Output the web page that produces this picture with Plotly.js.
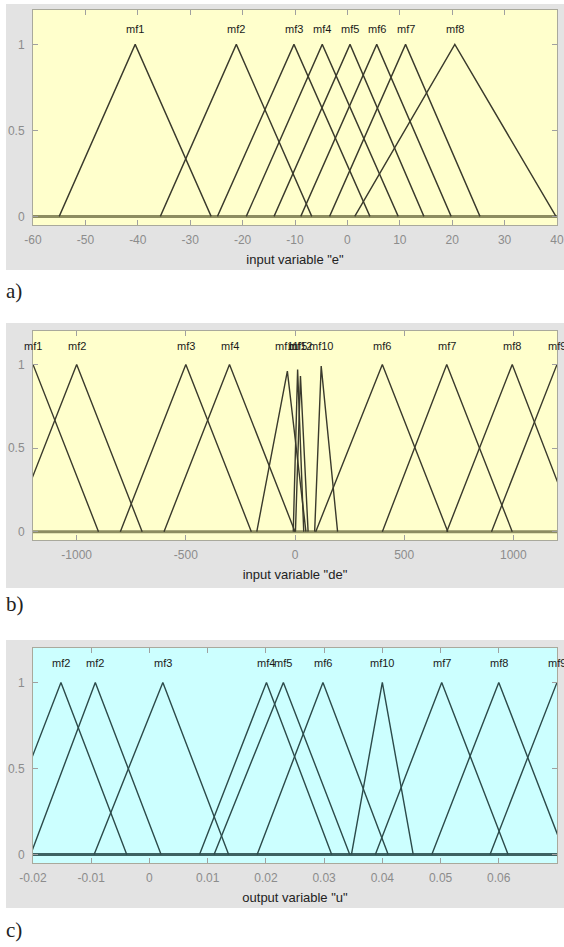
<!DOCTYPE html>
<html><head><meta charset="utf-8">
<script src="https://cdn.plot.ly/plotly-3.0.1.min.js"></script>
<style>
body{margin:0;background:#fff;width:564px;height:947px;position:relative;overflow:hidden;}
.p{position:absolute;left:6px;width:558px;}
.lab{position:absolute;left:6px;font-family:"Liberation Serif","DejaVu Serif",serif;font-size:21px;color:#222;line-height:24px;}
</style></head><body>
<div id="pa" class="p" style="top:4px;height:266px"></div>
<div class="lab" style="top:279px">a)</div>
<div id="pb" class="p" style="top:323px;height:265px"></div>
<div class="lab" style="top:592px">b)</div>
<div id="pc" class="p" style="top:640px;height:268px"></div>
<div class="lab" style="top:918px">c)</div>
<script>
// ---- panel a: input variable "e" ----
const eNames  = ['mf1','mf2','mf3','mf4','mf5','mf6','mf7','mf8'];
const eLeft   = [-55, -35.7, -24.8, -19.3, -14, -8.9, -3.4, 1.4];
const ePeak   = [-40.5, -21.2, -10.2, -4.8, 0.5, 5.6, 11.1, 20.5];
const eRight  = [-26, -6.8, 4.3, 9.7, 14.6, 19.8, 25.3, 39.8];
const eHeight = [1, 1, 1, 1, 1, 1, 1, 1];
const eRange  = [-60, 40];
const eTicks  = [-60, -50, -40, -30, -20, -10, 0, 10, 20, 30, 40];
const eTickText = ['-60','-50','-40','-30','-20','-10','0','10','20','30','40'];

// ---- panel b: input variable "de" ----
const deNames  = ['mf1','mf2','mf3','mf4','mf11','mf5','mf12','mf10','mf6','mf7','mf8','mf9'];
const deLeft   = [-1500, -1300, -800, -600, -175, -8, 2, 90, 95, 400, 695, 900];
const dePeak   = [-1200, -1000, -500, -300, -35, 12, 25, 120, 400, 695, 995, 1200];
const deRight  = [-900, -700, -200, 0, 50, 40, 60, 195, 700, 995, 1290, 1500];
const deHeight = [1, 1, 1, 1, 0.96, 0.97, 0.93, 0.99, 1, 1, 1, 1];
const deRange  = [-1200, 1200];
const deTicks  = [-1000, -500, 0, 500, 1000];
const deTickText = ['-1000','-500','0','500','1000'];

// ---- panel c: output variable "u" ----
const uNames  = ['mf2','mf2','mf3','mf4','mf5','mf6','mf10','mf7','mf8','mf9'];
const uLeft   = [-0.0266, -0.0204, -0.0095, 0.0086, 0.0111, 0.0185, 0.0347, 0.0388, 0.0485, 0.0585];
const uPeak   = [-0.0152, -0.0093, 0.0023, 0.0201, 0.0230, 0.0298, 0.0400, 0.0502, 0.0600, 0.0700];
const uRight  = [-0.0039, 0.0020, 0.0136, 0.0313, 0.0344, 0.0410, 0.0453, 0.0616, 0.0714, 0.0815];
const uHeight = [1, 1, 1, 1, 1, 1, 1, 1, 1, 1];
const uRange  = [-0.02, 0.07];
const uTicks  = [-0.02, -0.01, 0, 0.01, 0.02, 0.03, 0.04, 0.05, 0.06, 0.07];
const uTickText = ['-0.02','-0.01','0','0.01','0.02','0.03','0.04','0.05','0.06','0.07'];

const yRange = [-0.05, 1.2];
const yTicks = [0, 0.5, 1];
const yTickText = ['0','0.5','1'];

const FONT = 'Liberation Sans, Arial, sans-serif';

function panel(id, o) {
  const traces = [];
  traces.push({x: o.range, y: [0, 0], mode: 'lines', line: {color: o.zeroColor, width: 3},
               hoverinfo: 'skip', showlegend: false});
  for (let i = 0; i < o.names.length; i++) {
    traces.push({x: [o.left[i], o.peak[i], o.right[i]], y: [0, o.height[i], 0],
                 mode: 'lines', line: {color: o.lineColor, width: 1.4},
                 hoverinfo: 'skip', showlegend: false});
  }
  const ann = o.names.map((n, i) => ({x: o.peak[i], y: o.labelY, xref: 'x', yref: 'y', text: n,
    showarrow: false, font: {family: FONT, size: 11, color: '#1a1a1a'}}));
  const axCommon = {ticks: 'inside', ticklen: 5, tickcolor: '#a0a0a0', showline: true,
    linecolor: '#a9a99c', linewidth: 1, mirror: 'ticks', showgrid: false, zeroline: false,
    tickfont: {family: FONT, size: 12, color: '#8c8c8c'}, fixedrange: true};
  const layout = {
    width: 558, height: o.h,
    margin: {l: 27, r: 7, t: o.t, b: o.b},
    paper_bgcolor: '#e3e3e3', plot_bgcolor: o.bg,
    showlegend: false,
    xaxis: Object.assign({}, axCommon, {range: o.range, tickvals: o.ticks, ticktext: o.tickText,
      ticklabelstandoff: 4,
      title: {text: o.title, font: {family: FONT, size: 13, color: '#222'}, standoff: 8}}),
    yaxis: Object.assign({}, axCommon, {range: yRange, tickvals: yTicks, ticktext: yTickText,
      ticklabelstandoff: 5}),
    annotations: ann
  };
  Plotly.newPlot(id, traces, layout, {staticPlot: true, displayModeBar: false});
}

panel('pa', {names: eNames, left: eLeft, peak: ePeak, right: eRight, height: eHeight,
  range: eRange, ticks: eTicks, tickText: eTickText, title: 'input variable "e"',
  bg: '#ffffcc', lineColor: '#3a3a2c', zeroColor: '#8d8d60', h: 266, t: 6, b: 45, labelY: 1.09});
panel('pb', {names: deNames, left: deLeft, peak: dePeak, right: deRight, height: deHeight,
  range: deRange, ticks: deTicks, tickText: deTickText, title: 'input variable "de"',
  bg: '#ffffcc', lineColor: '#3a3a2c', zeroColor: '#8d8d60', h: 265, t: 8, b: 48, labelY: 1.11});
panel('pc', {names: uNames, left: uLeft, peak: uPeak, right: uRight, height: uHeight,
  range: uRange, ticks: uTicks, tickText: uTickText, title: 'output variable "u"',
  bg: '#ccffff', lineColor: '#2c4a4a', zeroColor: '#3d6262', h: 268, t: 8, b: 45, labelY: 1.11});
</script>
</body></html>
